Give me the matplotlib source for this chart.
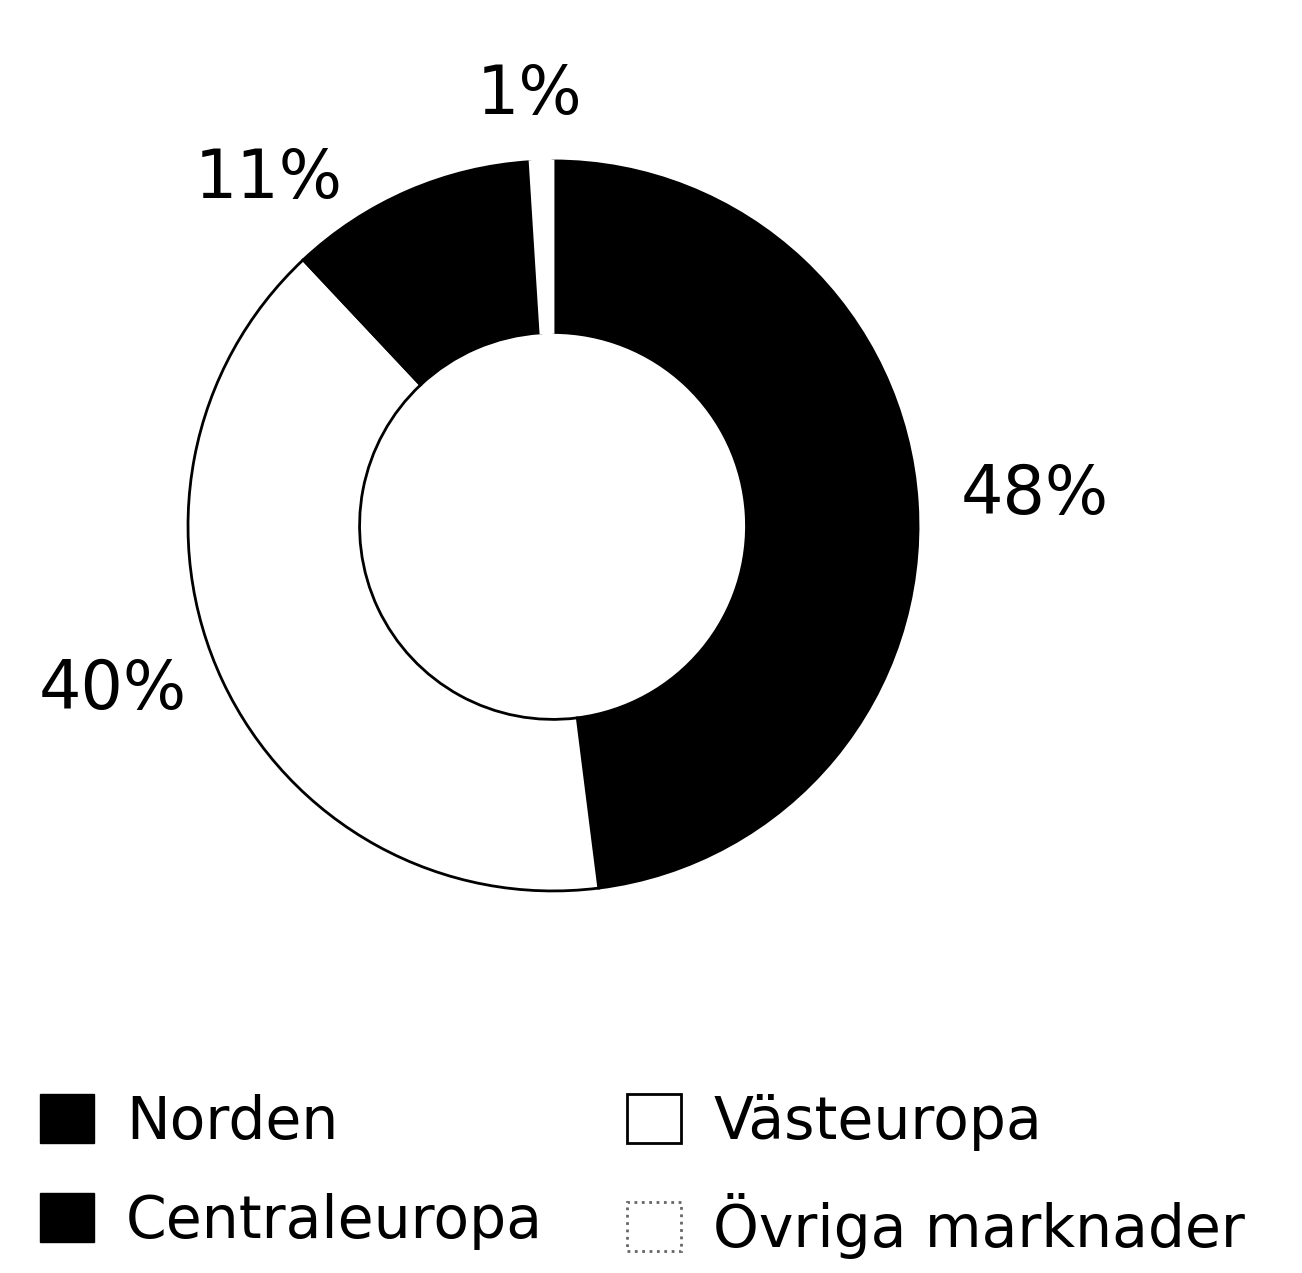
import matplotlib
matplotlib.use("Agg")
import matplotlib.pyplot as plt
from matplotlib.patches import Patch

plt.rcParams['font.family'] = ['DejaVu Sans']

# andelar per marknad, medurs från toppen
regions = ['Norden', 'Västeuropa', 'Centraleuropa', 'Övriga marknader']
shares = [48, 40, 11, 1]
fills = ['black', 'white', 'black', 'white']
edges = ['black', 'black', 'black', 'white']

# etikettplatser (data-koordinater, radie 1 = ytterkant)
label_pos = [(1.32, 0.085), (-1.205, -0.45), (-0.78, 0.95), (-0.065, 1.18)]

fig = plt.figure(figsize=(13.02, 12.73), dpi=100)
ax = fig.add_axes([0.1444, 0.3001, 0.5607, 0.5735])

wedges, _ = ax.pie(shares, colors=fills, startangle=90, counterclock=False,
                   radius=1, wedgeprops=dict(width=0.47, linewidth=2))
for w, ec in zip(wedges, edges):
    w.set_edgecolor(ec)

for (x, y), v in zip(label_pos, shares):
    ax.text(x, y, f"{v}%", fontsize=48, ha='center', va='center')

ax.set_xlim(-1, 1)
ax.set_ylim(-1, 1)
ax.set_aspect('equal')
ax.axis('off')

# legend: kolumnvis ordning
handles = [
    Patch(facecolor='black', edgecolor='black'),
    Patch(facecolor='black', edgecolor='black'),
    Patch(facecolor='white', edgecolor='black', linewidth=2),
    Patch(facecolor='white', edgecolor='0.4', linewidth=2, linestyle=':'),
]
names = [regions[0], regions[2], regions[1], regions[3]]
fig.legend(handles, names, ncol=2, loc='upper left',
           bbox_to_anchor=(40 / 1302, 1 - 1094 / 1273),
           bbox_transform=fig.transFigure, frameon=False, fontsize=42,
           borderpad=0, borderaxespad=0, handlelength=0.92, handleheight=0.92,
           handletextpad=0.55, columnspacing=1.45, labelspacing=0.72)

fig.savefig('out.png', dpi=100, facecolor='white')
